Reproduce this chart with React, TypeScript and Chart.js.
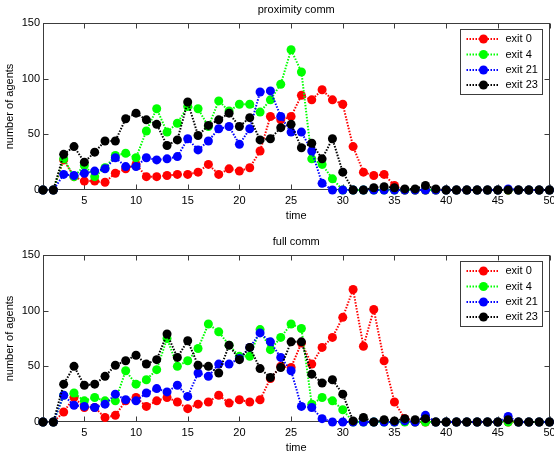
import React, { useEffect, useRef } from 'react';
import { Chart, registerables } from 'chart.js';

Chart.register(...registerables);

const FONT = '"Liberation Sans", Arial, Helvetica, sans-serif';

// time steps on the horizontal axis
const timeSteps = [
  1, 2, 3, 4, 5, 6, 7, 8, 9, 10,
  11, 12, 13, 14, 15, 16, 17, 18, 19, 20,
  21, 22, 23, 24, 25, 26, 27, 28, 29, 30,
  31, 32, 33, 34, 35, 36, 37, 38, 39, 40,
  41, 42, 43, 44, 45, 46, 47, 48, 49, 50,
];

const xTickValues = [5, 10, 15, 20, 25, 30, 35, 40, 45, 50];
const yTickValues = [0, 50, 100, 150];

const exitLabels = ['exit 0', 'exit 4', 'exit 21', 'exit 23'];
const exitColors = ['#ff0000', '#00ff00', '#0000ff', '#000000'];

// proximity comm: agents leaving through each exit per time step
const proxExit0 = [
  0, 0, 27, 12, 8, 8, 7, 15, 19, 23,
  12, 12, 13, 14, 14, 16, 23, 14, 19, 17,
  20, 35, 66, 63, 66, 85, 81, 90, 81, 77,
  39, 16, 13, 14, 4, 0, 0, 0, 0, 0,
  0, 0, 0, 0, 0, 0, 0, 0, 0, 0,
];
const proxExit4 = [
  0, 0, 28, 12, 22, 12, 20, 31, 33, 29,
  53, 73, 52, 60, 75, 73, 57, 80, 71, 77,
  77, 70, 81, 95, 126, 106, 28, 23, 10, 0,
  0, 0, 0, 0, 0, 0, 0, 0, 0, 0,
  0, 0, 0, 0, 0, 0, 0, 0, 0, 0,
];
const proxExit21 = [
  0, 0, 14, 13, 15, 17, 19, 29, 21, 21,
  29, 27, 28, 30, 46, 36, 44, 55, 57, 41,
  55, 88, 89, 66, 52, 52, 35, 6, 0, 0,
  0, 0, 0, 0, 0, 0, 0, 0, 0, 0,
  0, 0, 0, 0, 0, 1, 0, 0, 0, 0,
];
const proxExit23 = [
  0, 0, 32, 39, 25, 34, 44, 44, 64, 69,
  63, 59, 40, 45, 79, 49, 58, 63, 69, 57,
  65, 45, 46, 56, 59, 38, 42, 28, 46, 16,
  0, 0, 2, 3, 2, 1, 1, 4, 1, 0,
  0, 0, 0, 0, 0, 0, 0, 0, 0, 0,
];

// full comm: agents leaving through each exit per time step
const fullExit0 = [
  0, 0, 9, 22, 13, 13, 4, 6, 19, 22,
  14, 19, 22, 18, 12, 16, 18, 24, 17, 20,
  18, 20, 39, 50, 49, 71, 52, 67, 76, 94,
  119, 68, 101, 55, 18, 3, 0, 0, 0, 0,
  0, 0, 0, 0, 0, 0, 0, 0, 0, 0,
];
const fullExit4 = [
  0, 0, 24, 26, 19, 22, 19, 19, 46, 34,
  38, 47, 75, 50, 55, 66, 88, 81, 69, 59,
  59, 83, 65, 76, 88, 84, 16, 22, 19, 11,
  0, 0, 0, 0, 0, 0, 0, 0, 0, 0,
  0, 0, 0, 0, 0, 0, 0, 0, 0, 0,
];
const fullExit21 = [
  0, 0, 24, 15, 14, 13, 16, 25, 20, 19,
  26, 30, 27, 33, 23, 44, 41, 52, 52, 57,
  67, 80, 72, 58, 46, 14, 13, 3, 0, 0,
  0, 0, 0, 0, 0, 1, 0, 6, 0, 0,
  0, 0, 0, 0, 0, 5, 0, 0, 0, 0,
];
const fullExit23 = [
  0, 0, 34, 50, 33, 34, 41, 51, 55, 60,
  52, 56, 79, 58, 73, 51, 50, 44, 69, 56,
  67, 48, 40, 49, 72, 72, 43, 35, 38, 25,
  1, 4, 0, 2, 1, 3, 2, 3, 0, 0,
  0, 0, 0, 0, 0, 2, 0, 0, 0, 0,
];

const WIDTH = 554;
const PANEL_HEIGHT = 228;

// Axes box, inward tick marks, titles and legend in a MATLAB-like style
const framePlugin = {
  id: 'matlabFrame',
  beforeDatasetsDraw(chart: any, _args: any, opts: any) {
    const { ctx, chartArea: a, scales } = chart;
    const L = Math.round(a.left) + 0.5;
    const R = Math.round(a.right) - 0.5;
    const T = Math.round(a.top) + 0.5;
    const B = Math.round(a.bottom) - 0.5;
    ctx.save();
    ctx.strokeStyle = '#3c3c3c';
    ctx.lineWidth = 1;
    ctx.strokeRect(L, T, R - L, B - T);
    ctx.beginPath();
    const tl = 5;
    xTickValues.forEach((v) => {
      const px = Math.round(scales.x.getPixelForValue(v)) + 0.5;
      ctx.moveTo(px, B);
      ctx.lineTo(px, B - tl);
      ctx.moveTo(px, T);
      ctx.lineTo(px, T + tl);
    });
    yTickValues.forEach((v) => {
      const py = Math.round(scales.y.getPixelForValue(v)) + 0.5;
      ctx.moveTo(L, py);
      ctx.lineTo(L + tl, py);
      ctx.moveTo(R, py);
      ctx.lineTo(R - tl, py);
    });
    ctx.stroke();
    ctx.restore();
  },
  afterDraw(chart: any, _args: any, opts: any) {
    const { ctx, chartArea: a } = chart;
    const cx = (a.left + a.right) / 2;
    ctx.save();
    ctx.fillStyle = '#000';
    ctx.font = `11px ${FONT}`;
    ctx.textAlign = 'center';
    ctx.textBaseline = 'middle';
    ctx.fillText(opts.title, cx, a.top - 13);
    ctx.fillText('time', cx, a.bottom + 26);
    ctx.save();
    ctx.translate(10, (a.top + a.bottom) / 2);
    ctx.rotate(-Math.PI / 2);
    ctx.fillText('number of agents', 0, 0);
    ctx.restore();

    // legend box
    const bx = Math.round(a.right) - 90 + 0.5;
    const by = Math.round(a.top) + 6 + 0.5;
    const bw = 82;
    const bh = 65;
    ctx.fillStyle = '#ffffff';
    ctx.fillRect(bx, by, bw, bh);
    ctx.strokeStyle = '#3c3c3c';
    ctx.lineWidth = 1;
    ctx.strokeRect(bx, by, bw, bh);
    const rowOffsets = [9.5, 25, 40.5, 55.5];
    exitLabels.forEach((label, i) => {
      const ry = by + rowOffsets[i];
      ctx.strokeStyle = exitColors[i];
      ctx.lineWidth = 2;
      ctx.setLineDash([1.5, 1.5]);
      ctx.beginPath();
      ctx.moveTo(bx + 6, ry);
      ctx.lineTo(bx + 38, ry);
      ctx.stroke();
      ctx.setLineDash([]);
      ctx.fillStyle = exitColors[i];
      ctx.beginPath();
      ctx.arc(bx + 23, ry, 4.5, 0, Math.PI * 2);
      ctx.fill();
      ctx.fillStyle = '#000';
      ctx.textAlign = 'left';
      ctx.fillText(label, bx + 45, ry);
    });
    ctx.restore();
  },
};

type PanelProps = {
  title: string;
  series: number[][];
  areaTop: number;
  areaBottom: number;
};

function Panel({ title, series, areaTop, areaBottom }: PanelProps) {
  const ref = useRef<HTMLCanvasElement | null>(null);

  useEffect(() => {
    if (!ref.current) return;
    const chart = new Chart(ref.current, {
      type: 'line',
      data: {
        datasets: series.map((values, i) => ({
          label: exitLabels[i],
          data: values.map((v, j) => ({ x: timeSteps[j], y: v })),
          borderColor: exitColors[i],
          backgroundColor: exitColors[i],
          pointBackgroundColor: exitColors[i],
          pointBorderColor: exitColors[i],
          pointRadius: 4.5,
          pointBorderWidth: 0,
          borderWidth: 2,
          borderDash: [1.5, 1.5],
          tension: 0,
          clip: false,
          order: series.length - 1 - i,
        })),
      },
      options: {
        responsive: false,
        animation: false,
        events: [],
        layout: { padding: { top: areaTop, right: 2, left: 0, bottom: 0 } },
        plugins: {
          legend: { display: false },
          title: { display: false },
          tooltip: { enabled: false },
          matlabFrame: { title },
        } as any,
        scales: {
          x: {
            type: 'linear',
            min: 1,
            max: 50,
            grid: { display: false, drawTicks: false },
            border: { display: false },
            afterBuildTicks: (s: any) => {
              s.ticks = xTickValues.map((v) => ({ value: v }));
            },
            afterFit: (s: any) => {
              s.height = PANEL_HEIGHT - areaBottom;
              s.paddingLeft = 0;
              s.paddingRight = 0;
            },
            ticks: {
              font: { family: FONT, size: 11 },
              color: '#000',
              padding: 4,
              maxRotation: 0,
              autoSkip: false,
            },
          },
          y: {
            type: 'linear',
            min: 0,
            max: 150,
            grid: { display: false, drawTicks: false },
            border: { display: false },
            afterBuildTicks: (s: any) => {
              s.ticks = yTickValues.map((v) => ({ value: v }));
            },
            afterFit: (s: any) => {
              s.width = 43;
              s.paddingTop = 0;
              s.paddingBottom = 0;
            },
            ticks: {
              font: { family: FONT, size: 11 },
              color: '#000',
              padding: 3,
            },
          },
        },
      },
      plugins: [framePlugin],
    } as any);
    return () => chart.destroy();
  }, [title, series, areaTop, areaBottom]);

  return (
    <canvas
      ref={ref}
      width={WIDTH}
      height={PANEL_HEIGHT}
      style={{ display: 'block', width: WIDTH, height: PANEL_HEIGHT }}
    />
  );
}

const proxSeries = [proxExit0, proxExit4, proxExit21, proxExit23];
const fullSeries = [fullExit0, fullExit4, fullExit21, fullExit23];

export default function App() {
  return (
    <div
      style={{
        position: 'absolute',
        left: 0,
        top: 0,
        width: WIDTH,
        height: PANEL_HEIGHT * 2,
        background: '#ffffff',
      }}
    >
      <Panel title="proximity comm" series={proxSeries} areaTop={23} areaBottom={190} />
      <Panel title="full comm" series={fullSeries} areaTop={27} areaBottom={194} />
    </div>
  );
}
